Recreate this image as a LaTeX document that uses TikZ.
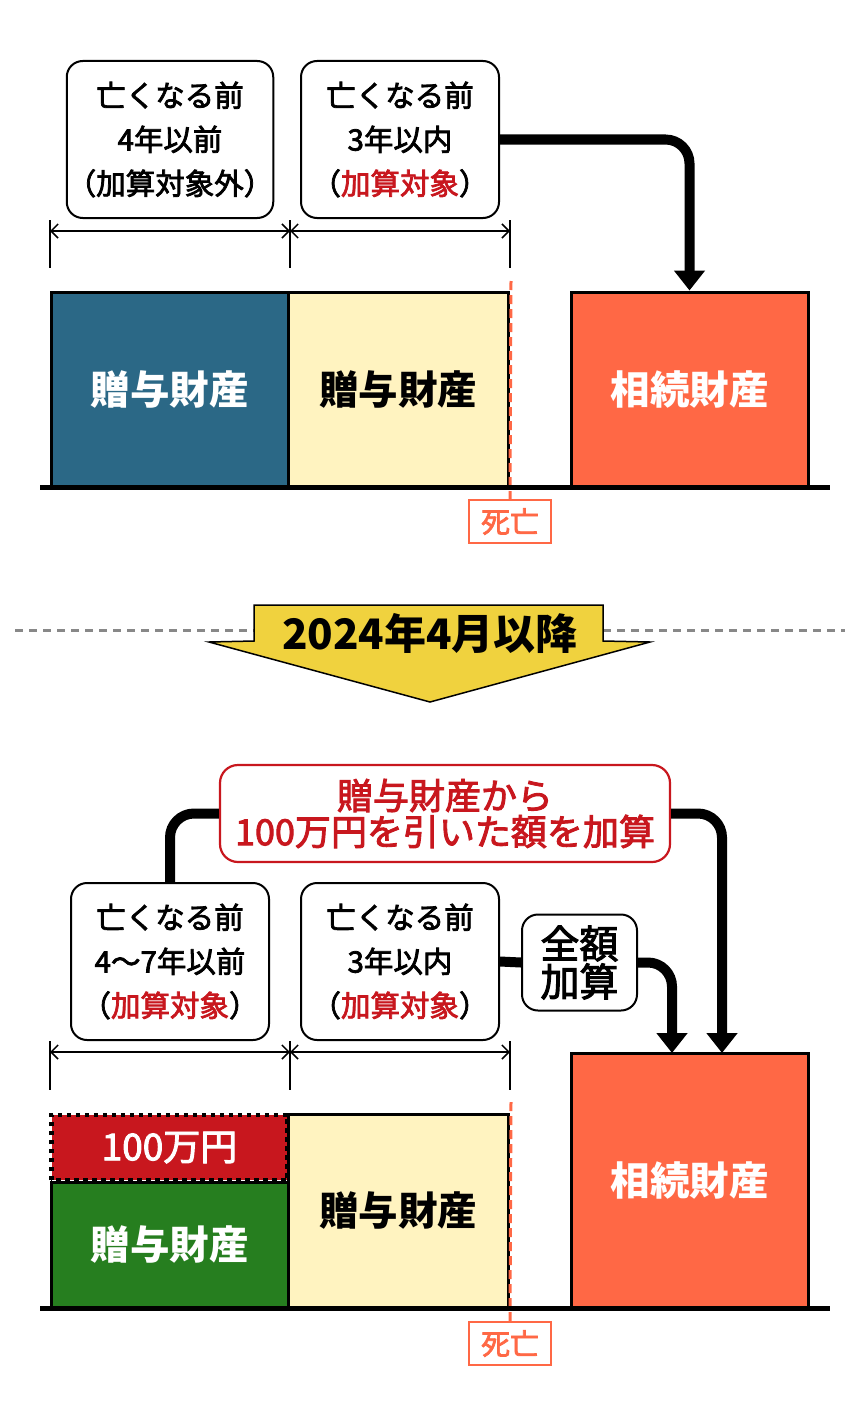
\documentclass[tikz,border=0pt]{standalone}
\usepackage{fontspec}
\setmainfont{Noto Sans CJK JP}
\newfontfamily\medfont[FakeBold=2.5]{Noto Sans CJK JP}
\usetikzlibrary{arrows.meta}
\definecolor{giftblue}{HTML}{2B6886}
\definecolor{giftyellow}{HTML}{FFF3C0}
\definecolor{inhorange}{HTML}{FF6845}
\definecolor{addred}{HTML}{C8171E}
\definecolor{giftgreen}{HTML}{267E1F}
\definecolor{bigyellow}{HTML}{F0D23E}
\definecolor{sepgray}{HTML}{888888}
\tikzset{
  tbox/.style={draw=black, line width=2pt, rounded corners=16pt, fill=white,
    minimum width=198pt, minimum height=157pt, align=center, inner sep=0pt,
    font=\medfont\fontsize{29.5}{44}\selectfont},
  blk/.style={draw=black, line width=3pt, inner sep=0pt, align=center,
    font=\bfseries\fontsize{39.5}{44}\selectfont},
  conn/.style={line width=10pt, rounded corners=24pt},
  connarrow/.style={conn, -{Triangle[width=30pt,length=20pt]}},
  dim/.style={line width=1.5pt, {Straight Barb[length=7pt,width=14pt]}-{Straight Barb[length=7pt,width=14pt]}},
  tick/.style={line width=1.2pt},
  deathline/.style={draw=inhorange, line width=3pt, dash pattern=on 9pt off 5pt},
  deathbox/.style={draw=inhorange, line width=2pt, text=inhorange, minimum width=82pt,
    minimum height=43pt, inner sep=0pt, font=\medfont\fontsize{29}{30}\selectfont},
  ground/.style={line width=5pt},
}
\newcommand{\red}[1]{\textcolor{addred}{#1}}
\begin{document}
\begin{tikzpicture}[x=1pt,y=-1pt]
\useasboundingbox (0,0) rectangle (860,1410);

% ===== top section =====
\node[tbox] (b1) at (170,139.5) {亡くなる前\\4年以前\\（加算対象外）};
\node[tbox] (b2) at (400,139.5) {亡くなる前\\3年以内\\（\red{加算対象}）};

\coordinate (d1a) at (50,231); \coordinate (d1b) at (290,231); \coordinate (d1c) at (510,231);
\draw[dim] (d1a) -- (d1b);
\draw[dim] (d1b) -- (d1c);
\draw[tick] (50,220) -- (50,268);
\draw[tick] (290,220) -- (290,268);
\draw[tick] (510,220) -- (510,268);

\node[blk, fill=giftblue, text=white, minimum width=237pt, minimum height=195pt] (g1) at (169.5,389.5) {贈与財産};
\node[blk, fill=giftyellow, minimum width=220pt, minimum height=195pt] (y1) at (398,389.5) {贈与財産};
\node[blk, fill=inhorange, text=white, minimum width=237pt, minimum height=195pt] (r1) at (689.5,389.5) {相続財産};

\node[deathbox] (death1) at (510,521.5) {死亡};
\coordinate (dl1) at (511,281);
\draw[deathline] (dl1) -- (death1.north);

\coordinate (gl1) at (40,487); \coordinate (gr1) at (830,487);
\draw[ground] (gl1) -- (gr1);

\draw[connarrow] (b2.east) -| (r1.north);

% ===== separator =====
\coordinate (sepl) at (15,630); \coordinate (sepr) at (845,630);
\draw[sepgray, line width=3pt, dash pattern=on 8pt off 6pt] (sepl) -- (sepr);
\filldraw[fill=bigyellow, draw=black, line width=1.5pt]
  (254,605) -- (603,605) -- (603,641) -- (650,642) -- (430,702) -- (209,642) -- (254,641) -- cycle;
\node[font=\bfseries\fontsize{42}{44}\selectfont] (when) at (430,633) {2024年4月以降};

% ===== bottom section =====
\node[draw=addred, line width=2.2pt, rounded corners=18pt, fill=white, minimum width=450pt,
  minimum height=97pt, align=center, inner sep=0pt, text=addred,
  font=\medfont\fontsize{36}{36}\selectfont] (redbox) at (445,813.5) {贈与財産から\\100万円を引いた額を加算};

\node[tbox] (b3) at (170,961.5) {亡くなる前\\4〜7年以前\\（\red{加算対象}）};
\node[tbox] (b4) at (400,961.5) {亡くなる前\\3年以内\\（\red{加算対象}）};
\node[draw=black, line width=2pt, rounded corners=16pt, fill=white, minimum width=115pt,
  minimum height=96pt, align=center, inner sep=0pt,
  font=\medfont\fontsize{39}{38}\selectfont] (zg) at (579.5,962.5) {全額\\加算};

\coordinate (d2a) at (50,1052); \coordinate (d2b) at (290,1052); \coordinate (d2c) at (510,1052);
\draw[dim] (d2a) -- (d2b);
\draw[dim] (d2b) -- (d2c);
\draw[tick] (50,1041) -- (50,1090);
\draw[tick] (290,1041) -- (290,1090);
\draw[tick] (510,1041) -- (510,1090);

\node[blk, fill=giftgreen, text=white, minimum width=237pt, minimum height=126pt] (g2) at (169.5,1245) {贈与財産};
\node[fill=addred, text=white, minimum width=236pt, minimum height=65pt, inner sep=0pt,
  font=\medfont\fontsize{37}{38}\selectfont] (m100) at (169.5,1147.5) {100万円};
\draw[black, line width=4.5pt, dash pattern=on 4.5pt off 4.5pt] (m100.south west) rectangle (m100.north east);
\node[blk, fill=giftyellow, minimum width=220pt, minimum height=194pt] (y2) at (398,1211) {贈与財産};
\node[blk, fill=inhorange, text=white, minimum width=237pt, minimum height=255pt] (r2) at (689.5,1180.5) {相続財産};

\node[deathbox] (death2) at (510,1343.5) {死亡};
\coordinate (dl2) at (511,1102);
\draw[deathline] (dl2) -- (death2.north);

\coordinate (gl2) at (40,1308); \coordinate (gr2) at (830,1308);
\draw[ground] (gl2) -- (gr2);

\coordinate (t1) at (672,1053);
\coordinate (t2) at (722,1053);
\draw[conn] (redbox.west) -| (b3.north);
\draw[connarrow] (redbox.east) -| (t2);
\draw[conn] (b4.east) -- (zg.west);
\draw[connarrow] (zg.east) -| (t1);
\end{tikzpicture}
\end{document}
